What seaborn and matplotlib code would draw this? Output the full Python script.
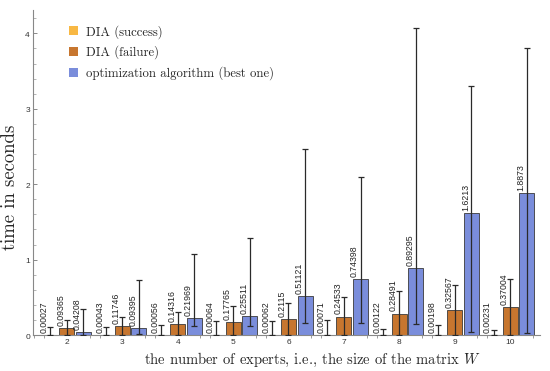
import matplotlib

matplotlib.use("Agg")
import matplotlib.pyplot as plt
import numpy as np
import pandas as pd
import seaborn as sns
from matplotlib.patches import Patch
from matplotlib.ticker import FixedLocator, MultipleLocator

n_experts = ["2", "3", "4", "5", "6", "7", "8", "9", "10"]
methods = ["DIA (success)", "DIA (failure)", "optimization algorithm (best one)"]

# mean times (the printed bar labels)
success_time = [0.00027, 0.00043, 0.00056, 0.00064, 0.00062, 0.00071, 0.00122, 0.00198, 0.00231]
failure_time = [0.09365, 0.11746, 0.14316, 0.17765, 0.2115, 0.24533, 0.28491, 0.32567, 0.37004]
best_time = [0.04208, 0.09395, 0.21969, 0.25511, 0.51121, 0.74398, 0.89295, 1.6213, 1.8873]

# error bar ends
success_low = [0, 0, 0, 0, 0, 0, 0, 0, 0]
success_high = [0.10, 0.11, 0.13, 0.18, 0.19, 0.20, 0.08, 0.13, 0.07]
failure_low = [0, 0, 0, 0, 0, 0, 0, 0, 0]
failure_high = [0.20, 0.245, 0.30, 0.38, 0.43, 0.50, 0.58, 0.66, 0.745]
best_low = [0.0, 0.01, 0.12, 0.12, 0.165, 0.165, 0.15, 0.04, 0.03]
best_high = [0.35, 0.73, 1.08, 1.28, 2.47, 2.10, 4.07, 3.30, 3.80]

colors = ["#F8B844", "#C7762F", "#7A8DDB"]
SERIF = "cmr10"
SANS = "Liberation Sans"


def build_frame() -> pd.DataFrame:
    rows = []
    for method, times in zip(methods, [success_time, failure_time, best_time]):
        for n, t in zip(n_experts, times):
            rows.append({"n": n, "method": method, "time": t})
    return pd.DataFrame(rows)


def main():
    sns.set_style("ticks")
    plt.rcParams["mathtext.fontset"] = "cm"
    plt.rcParams["axes.formatter.use_mathtext"] = True

    fig = plt.figure(figsize=(5.5, 3.71), dpi=100)
    ax = fig.add_axes([0.06, 0.097, 0.922, 0.876])

    df = build_frame()
    sns.barplot(
        data=df, x="n", y="time", hue="method", order=n_experts,
        hue_order=methods, palette=colors, saturation=1, width=0.9,
        gap=0.1, edgecolor="#3a3a3a", linewidth=0.6, errorbar=None,
        legend=False, ax=ax,
    )

    lows = [success_low, failure_low, best_low]
    highs = [success_high, failure_high, best_high]
    means = [success_time, failure_time, best_time]
    for container, mean, lo, hi in zip(ax.containers, means, lows, highs):
        x = [b.get_x() + b.get_width() / 2 for b in container]
        mean = np.array(mean)
        yerr = [mean - np.array(lo), np.array(hi) - mean]
        ax.errorbar(
            x, mean, yerr=yerr, fmt="none", ecolor="#2a2a2a",
            elinewidth=0.9, capsize=2.3, capthick=0.9, zorder=3,
        )
        for xi, v in zip(x, mean):
            ax.annotate(
                f"{v:g}", xy=(xi, v), xytext=(-4.3, 1.5),
                textcoords="offset points", rotation=90, ha="center",
                va="bottom", fontsize=6.3, family=SANS, color="#222222",
            )

    ax.set_xlim(-0.61, 8.54)
    ax.set_ylim(0, 4.31)

    ax.yaxis.set_major_locator(FixedLocator([0, 1, 2, 3, 4]))
    ax.yaxis.set_minor_locator(MultipleLocator(0.2))
    ax.tick_params(axis="y", which="major", direction="in", length=3,
                   width=0.6, color="#777777", labelsize=6, pad=1.5)
    ax.tick_params(axis="y", which="minor", direction="in", length=2,
                   width=0.5, color="#999999")

    bounds = np.arange(-0.5, 9.0, 1.0)
    edges = np.concatenate([bounds - 0.09, bounds + 0.09])
    ax.xaxis.set_minor_locator(FixedLocator(edges))
    ax.tick_params(axis="x", which="major", length=0, labelsize=6, pad=3)
    ax.tick_params(axis="x", which="minor", direction="out", length=2.5,
                   width=0.5, color="#777777")
    for lab in ax.get_xticklabels() + ax.get_yticklabels():
        lab.set_family(SANS)
        lab.set_color("#333333")

    sns.despine(ax=ax)
    for side in ["left", "bottom"]:
        ax.spines[side].set_color("#888888")
        ax.spines[side].set_linewidth(0.8)

    ax.set_ylabel("time in seconds", family=SERIF, fontsize=13.5)
    ax.yaxis.set_label_coords(-0.027, 0.455)
    ax.set_xlabel("the number of experts, i.e., the size of the matrix $W$",
                  family=SERIF, fontsize=10.5)
    ax.xaxis.set_label_coords(0.55, -0.05)

    handles = [Patch(facecolor=c, edgecolor="none") for c in colors]
    ax.legend(
        handles, methods, loc="upper left", bbox_to_anchor=(0.06, 0.97),
        frameon=False, prop={"family": SERIF, "size": 9.2},
        handlelength=0.75, handleheight=0.75, handletextpad=0.6,
        labelspacing=0.55, borderaxespad=0,
    )

    fig.savefig("out.png", dpi=100)


if __name__ == "__main__":
    main()
